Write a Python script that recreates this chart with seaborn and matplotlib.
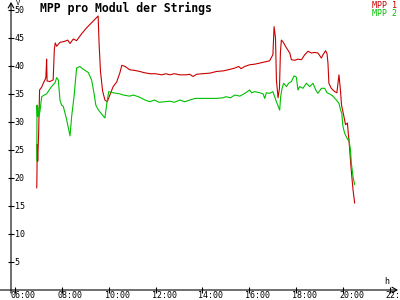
import matplotlib
matplotlib.use("Agg")
import matplotlib.pyplot as plt
import seaborn as sns
import pandas as pd
from matplotlib.transforms import blended_transform_factory, ScaledTranslation

# ---- data ----
t_mpp1 = [
    6.93, 6.94, 6.95, 6.97, 6.99, 7.01, 7.03, 7.05, 7.14, 7.22,
    7.28, 7.32, 7.35, 7.37, 7.49, 7.63, 7.68, 7.72, 7.78, 7.92,
    8.05, 8.13, 8.25, 8.35, 8.49, 8.63, 8.84, 9.06, 9.27, 9.41,
    9.55, 9.59, 9.65, 9.74, 9.84, 9.94, 10.05, 10.19, 10.34, 10.48,
    10.56, 10.70, 10.90, 11.10, 11.33, 11.50, 11.76, 12.00, 12.26, 12.45,
    12.61, 12.80, 13.04, 13.30, 13.46, 13.60, 13.75, 14.00, 14.32, 14.60,
    14.88, 15.10, 15.38, 15.55, 15.65, 15.81, 16.02, 16.23, 16.45, 16.87,
    17.01, 17.06, 17.12, 17.16, 17.23, 17.29, 17.33, 17.37, 17.44, 17.59,
    17.73, 17.80, 17.94, 18.08, 18.23, 18.37, 18.51, 18.65, 18.79, 18.93,
    19.08, 19.15, 19.26, 19.32, 19.36, 19.40, 19.50, 19.65, 19.74, 19.83,
    19.89, 19.94, 20.04, 20.11, 20.19, 20.24, 20.29, 20.33, 20.38, 20.43,
    20.50,
]
mpp1 = [
    18.2, 21.5, 26.0, 23.0, 25.5, 28.0, 32.0, 35.7, 36.2, 37.0,
    37.5, 38.0, 41.2, 37.3, 37.2, 37.5, 43.0, 44.1, 43.5, 44.2,
    44.3, 44.4, 44.6, 44.0, 44.8, 44.5, 45.7, 46.8, 47.7, 48.3,
    48.9, 44.0, 39.0, 35.5, 33.9, 33.6, 34.8, 36.3, 37.1, 38.8,
    40.1, 39.9, 39.3, 39.2, 39.0, 38.8, 38.6, 38.6, 38.4, 38.6,
    38.4, 38.6, 38.4, 38.4, 38.5, 38.1, 38.5, 38.6, 38.7, 39.0,
    39.1, 39.3, 39.6, 39.9, 39.5, 39.9, 40.2, 40.3, 40.5, 40.9,
    42.0, 47.0, 45.0, 37.5, 34.3, 36.0, 42.3, 44.6, 44.3, 43.2,
    42.3, 41.1, 41.0, 41.2, 41.1, 42.0, 42.6, 42.3, 42.4, 42.3,
    41.4, 42.0, 42.7, 42.2, 40.5, 36.9, 36.0, 35.4, 35.2, 38.4,
    35.8, 33.0, 31.0, 29.5, 29.8, 27.4, 25.0, 22.6, 20.2, 17.9,
    15.5,
]
t_mpp2 = [
    6.93, 6.94, 6.96, 6.98, 7.02, 7.07, 7.14, 7.25, 7.35, 7.46,
    7.56, 7.71, 7.78, 7.85, 7.92, 7.99, 8.06, 8.20, 8.35, 8.42,
    8.52, 8.63, 8.77, 8.88, 8.99, 9.13, 9.27, 9.37, 9.45, 9.55,
    9.70, 9.84, 9.91, 10.00, 10.19, 10.48, 10.62, 10.90, 11.05, 11.33,
    11.55, 11.76, 11.95, 12.15, 12.40, 12.61, 12.80, 13.04, 13.25, 13.46,
    13.70, 14.00, 14.32, 14.60, 14.88, 15.00, 15.20, 15.38, 15.60, 15.81,
    16.02, 16.10, 16.23, 16.45, 16.59, 16.66, 16.73, 16.87, 17.01, 17.16,
    17.30, 17.34, 17.40, 17.47, 17.59, 17.68, 17.80, 17.91, 18.01, 18.08,
    18.15, 18.29, 18.44, 18.58, 18.72, 18.84, 18.93, 19.08, 19.22, 19.32,
    19.43, 19.57, 19.72, 19.83, 19.90, 19.95, 20.00, 20.07, 20.15, 20.21,
    20.25, 20.32, 20.36, 20.43, 20.50,
]
mpp2 = [
    23.0, 33.0, 31.0, 32.7, 30.9, 32.0, 34.5, 34.8, 35.0, 35.7,
    36.3, 37.0, 37.9, 37.5, 33.9, 33.0, 32.8, 30.5, 27.5, 31.0,
    34.5, 39.6, 39.9, 39.5, 39.2, 38.8, 37.5, 35.2, 33.0, 32.2,
    31.4, 30.7, 33.0, 35.4, 35.2, 35.0, 34.8, 34.6, 34.8, 34.4,
    33.9, 33.6, 33.9, 33.5, 33.6, 33.7, 33.5, 33.9, 33.6, 33.9,
    34.2, 34.2, 34.2, 34.2, 34.3, 34.5, 34.3, 34.8, 34.6, 35.1,
    35.7, 35.2, 35.4, 35.2, 35.0, 34.2, 35.2, 35.1, 35.4, 33.6,
    32.1, 34.5, 36.0, 36.9, 36.3, 36.9, 37.2, 38.2, 38.0, 35.7,
    36.3, 36.0, 36.9, 36.3, 36.9, 35.7, 35.1, 36.0, 36.0, 35.2,
    35.0, 34.6, 33.9, 33.3, 32.1, 31.5, 29.2, 28.0, 27.3, 26.8,
    27.0, 25.0, 22.6, 20.2, 18.8,
]
series_names = ["MPP 1", "MPP 2"]
series_colors = ["#c80000", "#00c000"]
x_ticks = [6, 8, 10, 12, 14, 16, 18, 20, 22]
x_tick_labels = ["06:00", "08:00", "10:00", "12:00", "14:00", "16:00", "18:00", "20:00", "22:00"]
y_ticks = [5, 10, 15, 20, 25, 30, 35, 40, 45, 50]
title = "MPP pro Modul der Strings"

# ---- figure ----
sns.set_style("white")
plt.rcParams["font.family"] = ["DejaVu Sans Mono"]

W, H = 400, 300
fig = plt.figure(figsize=(4, 3), dpi=100)
ax = fig.add_axes([11 / W, 10 / H, 387 / W, 288 / H])

df = pd.concat([
    pd.DataFrame({"t": t_mpp1, "v": mpp1, "series": series_names[0]}),
    pd.DataFrame({"t": t_mpp2, "v": mpp2, "series": series_names[1]}),
], ignore_index=True)

sns.lineplot(data=df, x="t", y="v", hue="series", hue_order=series_names,
             palette=dict(zip(series_names, series_colors)),
             estimator=None, sort=False, lw=0.8, legend=False, ax=ax)

ax.set_xlim(5.83, 22.35)
ax.set_ylim(0, 51.4)
ax.set_xlabel("")
ax.set_ylabel("")
for s in ax.spines.values():
    s.set_visible(False)

# axis arrows
arrow = dict(arrowstyle="->,head_length=0.35,head_width=0.2", lw=0.8, color="black",
             shrinkA=0, shrinkB=0)
ax.annotate("", xy=(1.0, 0.0), xytext=(-11 / 387, 0.0), xycoords="axes fraction",
            arrowprops=arrow, annotation_clip=False)
ax.annotate("", xy=(0.0, 1.0), xytext=(0.0, -3 / 288), xycoords="axes fraction",
            arrowprops=arrow, annotation_clip=False)

# ticks
ax.set_xticks(x_ticks)
ax.set_yticks(y_ticks)
ax.set_xticklabels([])
ax.set_yticklabels([])
ax.tick_params(axis="both", direction="inout", length=4.3, width=0.8, color="black",
               bottom=True, left=True)

tx = blended_transform_factory(ax.transData, ax.transAxes)
for xt, lab in zip(x_ticks, x_tick_labels):
    ax.text(xt, 0, lab, transform=tx + ScaledTranslation(-4 / 100, -1 / 100, fig.dpi_scale_trans),
            ha="left", va="top", fontsize=6, color="black", clip_on=False)
ty = blended_transform_factory(ax.transAxes, ax.transData)
for yt in y_ticks:
    ax.text(0, yt, str(yt), transform=ty + ScaledTranslation(3.5 / 100, -0.5 / 100, fig.dpi_scale_trans),
            ha="left", va="center", fontsize=6, color="black", clip_on=False)

# titles and labels
fig.text(40 / W, 1 - 2 / H, title, ha="left", va="top", fontsize=8.3, fontweight="bold", color="black")
fig.text(397 / W, 1 - 1 / H, series_names[0], ha="right", va="top", fontsize=6, color=series_colors[0])
fig.text(397 / W, 1 - 8.5 / H, series_names[1], ha="right", va="top", fontsize=6, color=series_colors[1])
fig.text(387 / W, 1 - 277 / H, "h", ha="center", va="top", fontsize=6, color="black")
fig.text(18 / W, 1 - 0 / H, "V", ha="center", va="top", fontsize=5, color="black")

fig.savefig("out.png", dpi=100)
